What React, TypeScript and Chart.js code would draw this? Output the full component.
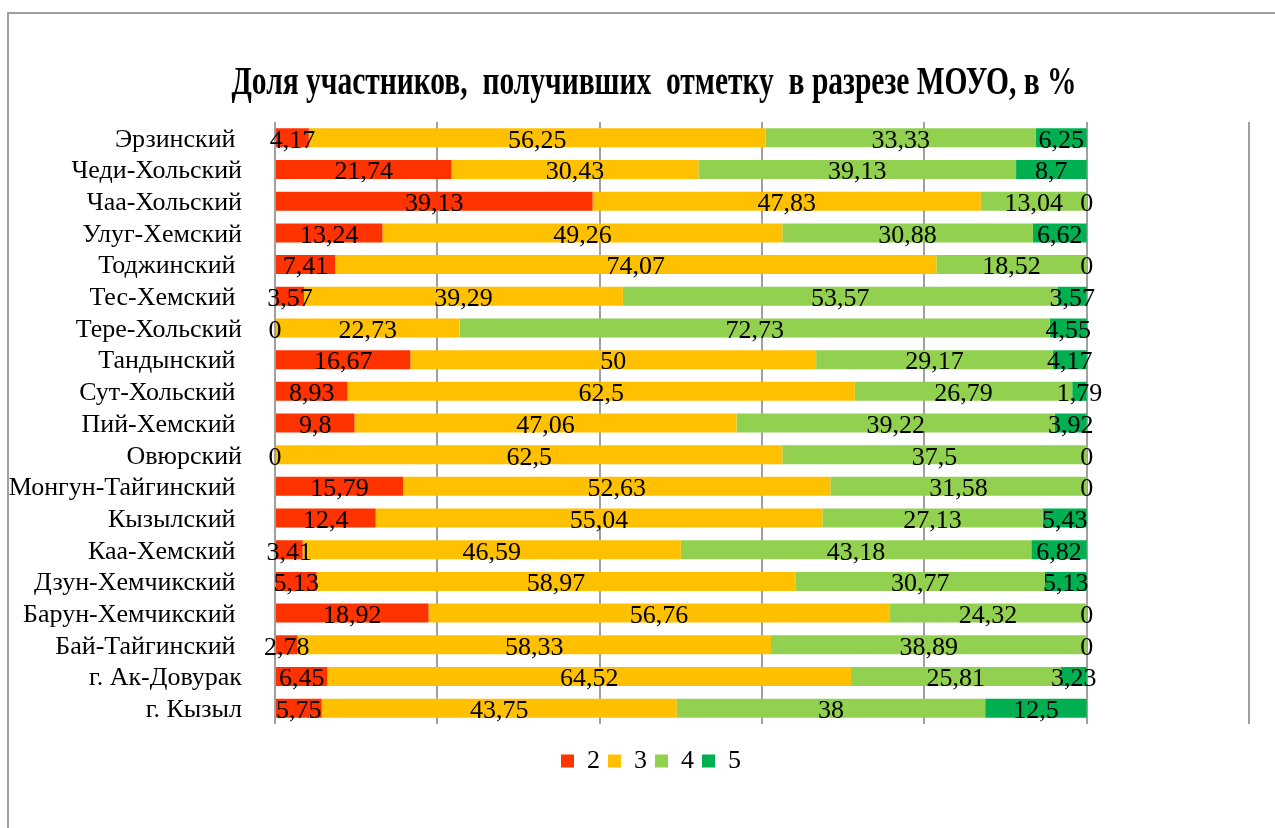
import React, { useEffect, useRef } from 'react';
import { Chart, registerables } from 'chart.js';

Chart.register(...registerables);

const categories = [
  'Эрзинский ',
  'Чеди-Хольский',
  'Чаа-Хольский',
  'Улуг-Хемский',
  'Тоджинский ',
  'Тес-Хемский ',
  'Тере-Хольский',
  'Тандынский ',
  'Сут-Хольский ',
  'Пий-Хемский ',
  'Овюрский',
  'Монгун-Тайгинский ',
  'Кызылский ',
  'Каа-Хемский ',
  'Дзун-Хемчикский ',
  'Барун-Хемчикский ',
  'Бай-Тайгинский ',
  'г. Ак-Довурак',
  'г. Кызыл',
];

const grade2 = [4.17, 21.74, 39.13, 13.24, 7.41, 3.57, 0, 16.67, 8.93, 9.8, 0, 15.79, 12.4, 3.41, 5.13, 18.92, 2.78, 6.45, 5.75];
const grade3 = [56.25, 30.43, 47.83, 49.26, 74.07, 39.29, 22.73, 50, 62.5, 47.06, 62.5, 52.63, 55.04, 46.59, 58.97, 56.76, 58.33, 64.52, 43.75];
const grade4 = [33.33, 39.13, 13.04, 30.88, 18.52, 53.57, 72.73, 29.17, 26.79, 39.22, 37.5, 31.58, 27.13, 43.18, 30.77, 24.32, 38.89, 25.81, 38];
const grade5 = [6.25, 8.7, 0, 6.62, 0, 3.57, 4.55, 4.17, 1.79, 3.92, 0, 0, 5.43, 6.82, 5.13, 0, 0, 3.23, 12.5];

const seriesNames = ['2', '3', '4', '5'];
const seriesColors = ['#FF3300', '#FFC000', '#92D050', '#00B050'];
const titleText = 'Доля участников,  получивших  отметку  в разрезе МОУО, в %';

const FONT = '"Liberation Serif", "Times New Roman", serif';

const fmt = (v: number) => String(v).replace('.', ',');

const titlePlugin = {
  id: 'stretchedTitle',
  afterDraw(chart: any) {
    const ctx = chart.ctx;
    ctx.save();
    ctx.font = `bold 41px ${FONT}`;
    const w = ctx.measureText(titleText).width;
    const sx = 845 / w;
    ctx.translate(654, 94);
    ctx.scale(sx, 1);
    ctx.textAlign = 'center';
    ctx.textBaseline = 'alphabetic';
    ctx.fillStyle = '#000';
    ctx.fillText(titleText, 0, 0);
    ctx.restore();
  },
};

const valueLabels = {
  id: 'valueLabels',
  afterDatasetsDraw(chart: any) {
    const ctx = chart.ctx;
    ctx.save();
    ctx.font = `26px ${FONT}`;
    ctx.fillStyle = '#000';
    ctx.textAlign = 'center';
    ctx.textBaseline = 'middle';
    chart.data.datasets.forEach((ds: any, i: number) => {
      const meta = chart.getDatasetMeta(i);
      meta.data.forEach((el: any, j: number) => {
        const p = el.getProps(['x', 'y', 'base'], true);
        ctx.fillText(fmt(ds.data[j]), (p.x + p.base) / 2, p.y + 3);
      });
    });
    ctx.restore();
  },
};

export default function App() {
  const ref = useRef<HTMLCanvasElement | null>(null);

  useEffect(() => {
    if (!ref.current) return;
    const values = [grade2, grade3, grade4, grade5];
    const chart = new Chart(ref.current, {
      type: 'bar',
      data: {
        labels: categories,
        datasets: values.map((d, i) => ({
          label: seriesNames[i],
          data: d,
          backgroundColor: seriesColors[i],
          borderWidth: 0,
          categoryPercentage: 0.6,
          barPercentage: 1,
        })),
      },
      options: {
        indexAxis: 'y',
        animation: false,
        responsive: false,
        maintainAspectRatio: false,
        layout: { padding: { top: 122, left: 0, right: 0, bottom: 44 } },
        scales: {
          x: {
            stacked: true,
            min: 0,
            max: 120,
            ticks: { display: false, stepSize: 20 },
            grid: { color: '#a0a0a0', lineWidth: 2, drawTicks: false },
            border: { display: false },
            afterFit: (s: any) => { s.height = 16; },
          },
          y: {
            stacked: true,
            ticks: { color: '#000', font: { family: FONT, size: 26 }, padding: 25, autoSkip: false, labelOffset: 2 },
            grid: { display: false },
            border: { display: false },
            afterFit: (s: any) => { s.width = 275; },
          },
          yRight: {
            type: 'linear',
            position: 'right',
            display: true,
            ticks: { display: false },
            grid: { display: false },
            border: { display: false },
            afterFit: (s: any) => { s.width = 53; },
          },
        },
        plugins: {
          title: { display: false },
          tooltip: { enabled: false },
          legend: {
            position: 'bottom',
            labels: {
              color: '#000',
              font: { family: FONT, size: 26 },
              boxWidth: 13,
              boxHeight: 13,
              padding: 8,
            },
          },
        },
      },
      plugins: [titlePlugin, valueLabels],
    });
    return () => chart.destroy();
  }, []);

  return (
    <div style={{ position: 'fixed', left: 0, top: 0, width: 1275, height: 828, overflow: 'hidden', background: '#fff' }}>
      <div style={{ position: 'absolute', left: 7, top: 12, width: 1400, height: 1000, border: '2px solid #a0a0a0' }} />
      <canvas ref={ref} width={1302} height={828} style={{ position: 'absolute', left: 0, top: 0 }} />
    </div>
  );
}
